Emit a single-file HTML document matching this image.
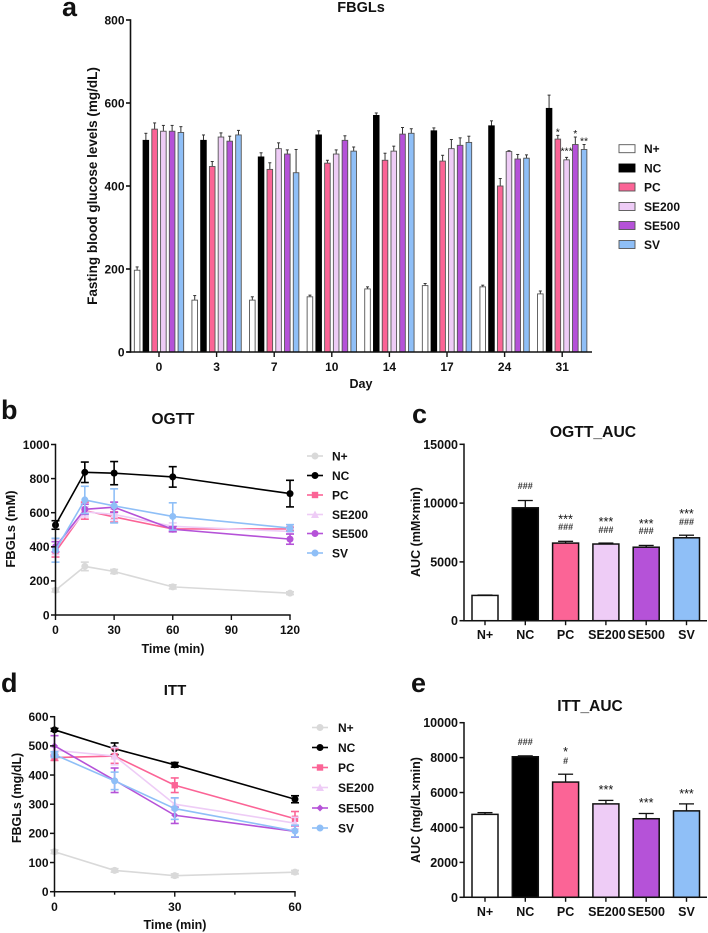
<!DOCTYPE html>
<html lang="en">
<head>
<meta charset="utf-8">
<title>Glucose charts</title>
<style>
html,body{margin:0;padding:0;background:#fff;}
body{width:708px;height:933px;overflow:hidden;}
svg{display:block;font-family:"Liberation Sans",sans-serif;font-weight:bold;fill:#111;filter:blur(0.35px);}
</style>
</head>
<body>
<svg id="figure" xmlns="http://www.w3.org/2000/svg" width="708" height="933" viewBox="0 0 708 933"></svg>
<script>
const groups = ['N+', 'NC', 'PC', 'SE200', 'SE500', 'SV'];

const fbglDays = ['0', '3', '7', '10', '14', '17', '24', '31'];
const fbglTicks = [0, 200, 400, 600, 800];
const fbglNPlus = [197, 125, 125, 133, 152, 160, 157, 140];
const fbglNC = [510, 510, 470, 523, 570, 533, 545, 587];
const fbglPC = [537, 447, 440, 455, 462, 460, 400, 513];
const fbglSE200 = [532, 518, 490, 477, 484, 490, 483, 463];
const fbglSE500 = [532, 508, 477, 510, 525, 498, 465, 500];
const fbglSV = [529, 523, 432, 484, 527, 505, 467, 488];
const fbglErrNPlus = [8, 11, 8, 4, 5, 5, 4, 7];
const fbglErrNC = [17, 13, 10, 10, 6, 7, 12, 32];
const fbglErrPC = [15, 12, 16, 7, 17, 14, 18, 9];
const fbglErrSE200 = [14, 10, 14, 10, 12, 22, 2, 6];
const fbglErrSE500 = [14, 12, 10, 11, 16, 18, 11, 18];
const fbglErrSV = [14, 11, 56, 10, 11, 15, 8, 12];
const fbglStars = ['', '', '*', '***', '*', '**'];

const ogttTimes = [0, 15, 30, 60, 120];
const ogttXTicks = [0, 30, 60, 90, 120];
const ogttYTicks = [0, 200, 400, 600, 800, 1000];
const ogttNPlus = [145, 285, 255, 165, 128];
const ogttNC = [528, 837, 832, 810, 712];
const ogttPC = [370, 612, 575, 505, 505];
const ogttSE200 = [400, 605, 590, 520, 490];
const ogttSE500 = [400, 620, 632, 503, 445];
const ogttSV = [380, 675, 640, 578, 510];
const ogttErrNPlus = [10, 25, 12, 12, 8];
const ogttErrNC = [25, 60, 68, 60, 78];
const ogttErrPC = [30, 50, 30, 15, 10];
const ogttErrSE200 = [45, 30, 30, 20, 15];
const ogttErrSE500 = [30, 30, 30, 15, 30];
const ogttErrSV = [70, 80, 100, 80, 20];

const ogttAucTicks = [0, 5000, 10000, 15000];
const ogttAuc = [2150, 9600, 6600, 6520, 6250, 7050];
const ogttAucErr = [30, 620, 150, 80, 150, 220];
const ogttAucStars = ['', '', '***', '***', '***', '***'];
const ogttAucHash = ['', '###', '###', '###', '###', '###'];

const ittTimes = [0, 15, 30, 60];
const ittXTicks = [0, 15, 30, 45, 60];
const ittXLabels = ['0', '', '30', '', '60'];
const ittYTicks = [0, 100, 200, 300, 400, 500, 600];
const ittNPlus = [137, 73, 55, 67];
const ittNC = [555, 490, 435, 317];
const ittPC = [460, 465, 365, 250];
const ittSE200 = [485, 465, 300, 235];
const ittSE500 = [500, 382, 262, 207];
const ittSV = [470, 380, 285, 208];
const ittErrNPlus = [6, 6, 6, 6];
const ittErrNC = [5, 20, 8, 12];
const ittErrPC = [10, 25, 25, 25];
const ittErrSE200 = [10, 30, 20, 20];
const ittErrSE500 = [35, 42, 28, 20];
const ittErrSV = [10, 30, 37, 20];

const ittAucTicks = [0, 2000, 4000, 6000, 8000, 10000];
const ittAuc = [4750, 8050, 6600, 5350, 4500, 4950];
const ittAucErr = [100, 50, 450, 200, 300, 400];
const ittAucStars = ['', '', '*', '***', '***', '***'];
const ittAucHash = ['', '###', '#', '', '', ''];

const fills = ['#ffffff', '#000000', '#fb6496', '#eeccf6', '#b552d8', '#8fbff7'];
const lineColors = ['#d9d9d9', '#000000', '#fb6496', '#eeccf6', '#b552d8', '#8fbff7'];

const svg = document.getElementById('figure');
const NS = 'http://www.w3.org/2000/svg';

function el(tag, attrs, parent) {
  const n = document.createElementNS(NS, tag);
  for (const k in attrs) n.setAttribute(k, attrs[k]);
  (parent || svg).appendChild(n);
  return n;
}
function txt(str, x, y, size, anchor, parent) {
  const t = el('text', {x: x, y: y, 'font-size': size, 'text-anchor': anchor || 'middle'}, parent);
  t.textContent = str;
  return t;
}
function linear(d0, d1, r0, r1) {
  return function (v) { return r0 + (v - d0) * (r1 - r0) / (d1 - d0); };
}
function seg(x1, y1, x2, y2, color, w, parent) {
  return el('line', {x1: x1, y1: y1, x2: x2, y2: y2, stroke: color, 'stroke-width': w}, parent);
}

function panelLabel(ch, x, y) {
  const t = txt(ch, x, y, 27, 'start');
  
  
}
function chartTitle(str, x, y, size) {
  const t = txt(str, x, y, size);
  
  
}
function yTitle(str, x, y, size, id) {
  const t = txt(str, 0, 0, size);
  t.setAttribute('transform', 'translate(' + x + ',' + y + ') rotate(-90)');
  
  
}
function xTitle(str, x, y, size, id) {
  const t = txt(str, x, y, size);
  
  
}

function yAxis(id, ticks, yScale, x, size, w) {
  const g = el('g', {});
  
  
  seg(x, yScale(ticks[ticks.length - 1]) - w / 2, x, yScale(ticks[0]) + w / 2, '#111', w, g);
  ticks.forEach(function (v) {
    seg(x - 4.5, yScale(v), x, yScale(v), '#111', w, g);
    const t = txt(String(v), x - 6, yScale(v) + size * 0.36, size, 'end', g);
    
    
  });
}

/* Panel a */
(function () {
  const y = linear(0, 800, 352, 20);
  const series = [fbglNPlus, fbglNC, fbglPC, fbglSE200, fbglSE500, fbglSV];
  const errs = [fbglErrNPlus, fbglErrNC, fbglErrPC, fbglErrSE200, fbglErrSE500, fbglErrSV];
  const groupX = function (i) { return 159 + i * 57.6; };
  const barStep = 8.75;
  const barW = 5.6;
  series.forEach(function (vals, s) {
    vals.forEach(function (v, i) {
      const cx = groupX(i) + (s - 2.5) * barStep;
      const err = seg(cx, y(v), cx, y(v + errs[s][i]), '#333', 1);
      
      
      seg(cx - 1.5, y(v + errs[s][i]), cx + 1.5, y(v + errs[s][i]), '#333', 1);
      const r = el('rect', {x: cx - barW / 2, y: y(v), width: barW, height: y(0) - y(v), fill: fills[s], stroke: s === 1 ? '#000' : '#555', 'stroke-width': 0.9});
      
      
    });
  });
  fbglStars.forEach(function (s, i) {
    if (!s) return;
    const last = fbglDays.length - 1;
    const vals = series[i][last] + errs[i][last];
    const t = txt(s, groupX(last) + (i - 2.5) * barStep, y(vals) + (i === 3 ? -3 : 0), 10.5);
    t.setAttribute('font-weight', 'normal');
    
    
  });
  yAxis('fbgl', fbglTicks, y, 130.5, 12, 1.6);
  const ax = seg(127, y(0), 592, y(0), '#111', 1.6);
  
  
  fbglDays.forEach(function (d, i) {
    seg(groupX(i), y(0), groupX(i), y(0) + 5, '#111', 1.4);
    const t = txt(d, groupX(i), 371, 12);
    
    
  });
  const ly = [148.7, 168, 187, 206.5, 225.5, 244.5];
  groups.forEach(function (g, i) {
    const sw = el('rect', {x: 619, y: ly[i] - 4, width: 16, height: 8, fill: fills[i], stroke: i === 1 ? '#000' : '#555', 'stroke-width': 0.9});
    
    
    const t = txt(g, 644, ly[i] + 4.5, 12, 'start');
    
    
  });
})();

function marker(shape, cx, cy, r, color, parent) {
  if (shape === 'square') return el('rect', {x: cx - r, y: cy - r, width: 2 * r, height: 2 * r, fill: color}, parent);
  if (shape === 'triangle') return el('polygon', {points: cx + ',' + (cy - r - 0.5) + ' ' + (cx + r + 0.5) + ',' + (cy + r) + ' ' + (cx - r - 0.5) + ',' + (cy + r), fill: color}, parent);
  if (shape === 'diamond') return el('polygon', {points: cx + ',' + (cy - r) + ' ' + (cx + r) + ',' + cy + ' ' + cx + ',' + (cy + r) + ' ' + (cx - r) + ',' + cy, fill: color}, parent);
  return el('circle', {cx: cx, cy: cy, r: r, fill: color}, parent);
}

function linePanel(id, times, series, errs, shapes, x, y, legendY, legendLineX, legendTextX) {
  series.forEach(function (vals, s) {
    const g = el('g', {});
    
    
    const color = lineColors[s];
    vals.forEach(function (v, i) {
      const e = errs[s][i];
      const cx = x(times[i]);
      seg(cx, y(v - e), cx, y(v + e), color, 1.6, g);
      seg(cx - 4, y(v + e), cx + 4, y(v + e), color, 1.6, g);
      seg(cx - 4, y(v - e), cx + 4, y(v - e), color, 1.6, g);
    });
    const pts = vals.map(function (v, i) { return x(times[i]) + ',' + y(v); }).join(' ');
    el('polyline', {points: pts, fill: 'none', stroke: color, 'stroke-width': 1.6}, g);
    vals.forEach(function (v, i) {
      marker(shapes[s], x(times[i]), y(v), shapes[s] === 'square' ? 3.2 : 3.5, color, g);
    });
  });
  groups.forEach(function (name, s) {
    const g = el('g', {});
    
    
    seg(legendLineX - 8, legendY[s], legendLineX + 8, legendY[s], lineColors[s], 1.6, g);
    marker(shapes[s], legendLineX, legendY[s], shapes[s] === 'square' ? 3.2 : 3.5, lineColors[s], g);
    txt(name, legendTextX, legendY[s] + 4.5, 12, 'start', g);
  });
}

/* Panel b */
(function () {
  const x = linear(0, 120, 55.5, 290);
  const y = linear(0, 1000, 615, 444.5);
  linePanel('ogtt', ogttTimes,
    [ogttNPlus, ogttNC, ogttPC, ogttSE200, ogttSE500, ogttSV],
    [ogttErrNPlus, ogttErrNC, ogttErrPC, ogttErrSE200, ogttErrSE500, ogttErrSV],
    ['circle', 'circle', 'square', 'triangle', 'circle', 'circle'],
    x, y, [456, 475.5, 495, 514.5, 533.5, 553], 315, 332);
  yAxis('ogtt', ogttYTicks, y, 55.5, 12, 1.5);
  const ax = seg(55, y(0), 290.7, y(0), '#111', 1.5);
  
  
  ogttXTicks.forEach(function (v) {
    seg(x(v), y(0), x(v), y(0) + 5, '#111', 1.4);
    const t = txt(String(v), x(v), 634, 12);
    
    
  });
})();

/* Panel d */
(function () {
  const x = linear(0, 60, 54.5, 295);
  const y = linear(0, 600, 891.7, 716.7);
  linePanel('itt', ittTimes,
    [ittNPlus, ittNC, ittPC, ittSE200, ittSE500, ittSV],
    [ittErrNPlus, ittErrNC, ittErrPC, ittErrSE200, ittErrSE500, ittErrSV],
    ['circle', 'circle', 'square', 'triangle', 'diamond', 'circle'],
    x, y, [727.5, 747.5, 767.5, 787.5, 808, 828], 320, 338);
  yAxis('itt', ittYTicks, y, 54.5, 12, 1.5);
  const ax = seg(54, y(0), 295.7, y(0), '#111', 1.5);
  
  
  ittXTicks.forEach(function (v, i) {
    seg(x(v), y(0), x(v), y(0) + (ittXLabels[i] ? 5 : 3), '#111', 1.4);
    if (ittXLabels[i]) {
      const t = txt(ittXLabels[i], x(v), 911, 12);
      
      
    }
  });
})();

function aucPanel(id, vals, errs, ticks, stars, hashes, y, labelY, starY, hashY) {
  const barX = function (i) { return 485 + i * 40.3; };
  vals.forEach(function (v, i) {
    const cx = barX(i);
    const e = seg(cx, y(v), cx, y(v + errs[i]), '#111', 1.3);
    
    
    seg(cx - 7.5, y(v + errs[i]), cx + 7.5, y(v + errs[i]), '#111', 1.3);
    const r = el('rect', {x: cx - 13, y: y(v), width: 26, height: y(0) - y(v), fill: fills[i], stroke: '#111', 'stroke-width': 1.5});
    
    
    const t = txt(groups[i], cx + (i === 3 ? 1 : 0), labelY, 12.5);
    
    
    if (stars[i]) {
      const st = txt(stars[i], cx, starY[i], 12.5);
      st.setAttribute('font-weight', 'normal');
      
      
    }
    if (hashes[i]) {
      const h = txt(hashes[i], cx, hashY[i], 9);
      h.setAttribute('fill', '#333');
      
      
    }
    seg(cx, y(0), cx, y(0) + 4.5, '#111', 1.4);
  });
  yAxis(id, ticks, y, 464, 12.5, 1.5);
  const ax = seg(463, y(0), 707, y(0), '#111', 1.5);
  
  
}

/* Panel c */
aucPanel('ogtt-auc', ogttAuc, ogttAucErr, ogttAucTicks, ogttAucStars, ogttAucHash,
  linear(0, 15000, 620.7, 444.3), 639, [0, 0, 523.5, 526, 528, 518], [0, 489, 530, 533, 534, 525]);
/* Panel e */
aucPanel('itt-auc', ittAuc, ittAucErr, ittAucTicks, ittAucStars, ittAucHash,
  linear(0, 10000, 897.3, 722.7), 916, [0, 0, 756, 794, 807, 798], [0, 745, 764, 0, 0, 0]);

panelLabel('a', 62, 16);
panelLabel('b', 1, 419);
panelLabel('c', 412, 423);
panelLabel('d', 1, 692);
panelLabel('e', 411, 692);
chartTitle('FBGLs', 361, 12, 14.5);
chartTitle('OGTT', 173, 424, 15.5);
chartTitle('OGTT_AUC', 593, 437, 15.7);
chartTitle('ITT', 175, 695, 15);
chartTitle('ITT_AUC', 590, 711, 15.5);
yTitle('Fasting blood glucose levels (mg/dL)', 97, 186, 13.5, 'fbgl');
xTitle('Day', 361, 388, 12.5, 'fbgl');
yTitle('FBGLs (mM)', 15, 529, 13, 'ogtt');
xTitle('Time (min)', 173, 653, 12.5, 'ogtt');
yTitle('FBGLs (mg/dL)', 21, 798, 12.5, 'itt');
xTitle('Time (min)', 175, 929, 12.5, 'itt');
yTitle('AUC (mM\u00d7min)', 420, 532, 12.5, 'ogtt-auc');
yTitle('AUC (mg/dL\u00d7min)', 420, 810, 12.5, 'itt-auc');
</script>
</body>
</html>
